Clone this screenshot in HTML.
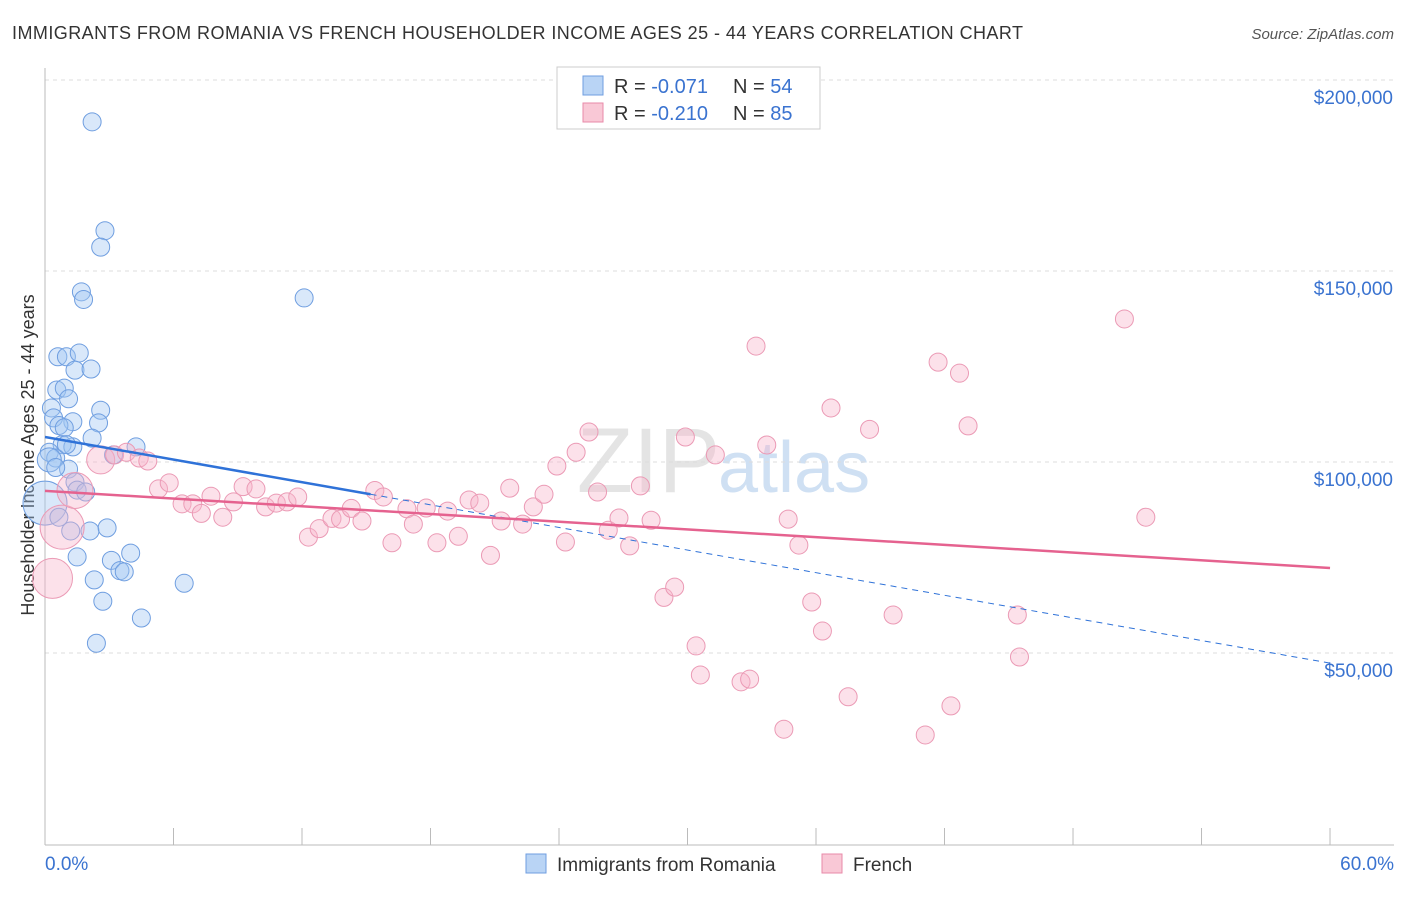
<!DOCTYPE html>
<html><head><meta charset="utf-8"><style>
body{margin:0;background:#fff;font-family:"Liberation Sans",sans-serif}
svg text{font-family:"Liberation Sans",sans-serif}
</style></head><body>
<svg id="c" width="1406" height="892">
<text x="12" y="39" font-size="18" fill="#333" textLength="1011">IMMIGRANTS FROM ROMANIA VS FRENCH HOUSEHOLDER INCOME AGES 25 - 44 YEARS CORRELATION CHART</text>
<text x="1394" y="39" font-size="15" fill="#555" font-style="italic" text-anchor="end">Source: ZipAtlas.com</text>
<text x="720" y="492" font-size="92" fill="#e4e4e4" text-anchor="end" font-family="Liberation Serif">ZIP</text>
<text x="718" y="492" font-size="72" fill="#cfe0f3">atlas</text>
<text transform="translate(34,455) rotate(-90)" font-size="18" fill="#333" text-anchor="middle">Householder Income Ages 25 - 44 years</text>
<g id="grid"></g><g id="pts"></g><g id="lines"></g>
<g>
<rect x="557" y="67" width="263" height="62" fill="#fff" stroke="#ccc"/>
<rect x="583" y="76" width="20" height="19" fill="#b9d4f5" stroke="#6f9ee0"/>
<rect x="583" y="103" width="20" height="19" fill="#f9c8d6" stroke="#e88aa8"/>
<text x="614" y="93" font-size="20" fill="#333">R = <tspan fill="#3a73d0">-0.071</tspan></text>
<text x="733" y="93" font-size="20" fill="#333">N = <tspan fill="#3a73d0">54</tspan></text>
<text x="614" y="120" font-size="20" fill="#333">R = <tspan fill="#3a73d0">-0.210</tspan></text>
<text x="733" y="120" font-size="20" fill="#333">N = <tspan fill="#3a73d0">85</tspan></text>
</g>
<g>
<rect x="526" y="854" width="20" height="19" fill="#b9d4f5" stroke="#6f9ee0"/>
<text x="557" y="871" font-size="19" fill="#333">Immigrants from Romania</text>
<rect x="822" y="854" width="20" height="19" fill="#f9c8d6" stroke="#e88aa8"/>
<text x="853" y="871" font-size="19" fill="#333">French</text>
</g>
<text x="45" y="870" font-size="19" fill="#3a73d0">0.0%</text>
<text x="1394" y="870" font-size="19" fill="#3a73d0" text-anchor="end">60.0%</text>
</svg>
<script>
const yTicks=[200000,150000,100000,50000];
const yTickLabels=["$200,000","$150,000","$100,000","$50,000"];
const blueX=[2.2,2.8,2.6,1.7,1.8,12.1,0.6,1.0,1.6,1.4,2.15,0.55,0.9,1.1,0.3,2.6,0.4,1.3,2.5,0.65,0.9,2.2,0.8,1.3,4.25,0.2,0.5,3.2,1.1,1.4,1.5,1.9,0,0.65,1.2,2.1,2.9,1.5,4,3.1,2.3,3.5,3.7,6.5,2.7,4.5,2.4,0.2,0.5,1.0];
const blueY=[193.5,165,160.7,149,147,147.4,132,132,133,128.5,128.8,123.3,123.8,121,118.6,118,116,115,114.7,114,113.4,110.7,109,108.4,108.4,107,105.5,106.3,102.6,99.2,97.1,96.6,93.7,90,86.4,86.4,87.2,79.6,80.6,78.7,73.6,76,75.7,72.7,68,63.6,57,105,103,109];
const blueR=[9,9,9,9,9,9,9,9,9,9,9,9,9,9,9,9,9,9,9,9,9,9,9,9,9,9,9,9,9,9,9,9,22,9,9,9,9,9,9,9,9,9,9,9,9,9,9,12,9,9];
const pinkX=[0.35,0.8,1.4,2.6,3.25,3.8,4.4,4.8,5.3,5.8,6.4,6.9,7.3,7.75,8.3,8.8,9.25,9.85,10.3,10.8,11.3,11.8,12.3,12.8,13.4,13.8,14.3,14.8,15.4,15.8,16.2,16.9,17.2,17.8,18.3,18.8,19.3,19.8,20.3,20.8,21.3,21.7,22.3,22.8,23.3,23.9,24.3,24.8,25.4,25.8,26.3,26.8,27.3,27.8,28.3,28.9,29.4,29.9,30.4,30.6,31.3,32.5,32.9,33.2,33.7,34.5,34.7,35.2,35.8,36.3,36.7,37.5,38.5,39.6,41.1,41.7,42.3,42.7,43.1,45.4,45.5,50.4,51.4];
const pinkY=[74,87.4,97,105,106.3,107,105.5,104.7,97.4,99,93.5,93.5,91,95.5,90,94,98,97.4,92.7,93.7,94,95.3,84.8,87,89.7,89.5,92.3,89,97,95.3,83.3,92.2,88.2,92.4,83.3,91.6,85,94.5,93.7,80,89,97.6,88.2,92.7,96,103.4,83.5,107,112.3,96.6,86.6,89.8,82.5,98.2,89.2,69,71.7,111,56.3,48.7,106.3,46.9,47.6,134.8,108.9,34.5,89.5,82.7,67.8,60.2,118.6,43,113,64.4,33,130.6,40.6,127.7,113.9,64.4,53.4,141.9,90];
const pinkR=[20,22,18,14];
const blueTrend=[111,51.8]; const pinkTrend=[96.9,76.7];
const NS="http://www.w3.org/2000/svg";
const X=p=>45+p*21.417, Y=v=>97+(200-v)*3.82;
function mk(t,a,parent){const e=document.createElementNS(NS,t);for(const k in a)e.setAttribute(k,a[k]);document.getElementById(parent).appendChild(e);return e;}
yTicks.forEach((t,i)=>{const y=Y(t/1000);
const g=mk('line',{x1:45,x2:1394,y1:y-17,y2:y-17,stroke:'#ddd','stroke-dasharray':'4,4'},'grid');


const tx=mk('text',{x:1393,y:y+7,'font-size':19,fill:'#3a73d0','text-anchor':'end'},'grid');tx.textContent=yTickLabels[i];

});
mk('line',{x1:45,x2:45,y1:68,y2:845,stroke:'#bbb'},'grid');
mk('line',{x1:45,x2:1394,y1:845,y2:845,stroke:'#bbb'},'grid');
for(let i=0;i<=10;i++){const t=mk('line',{x1:X(i*6),x2:X(i*6),y1:828,y2:845,stroke:'#bbb'},'grid');

}
blueX.forEach((p,i)=>{const c=mk('circle',{cx:X(p),cy:Y(blueY[i]),r:blueR[i]||9,fill:'rgba(160,197,242,0.4)',stroke:'#6f9ee0','stroke-width':1},'pts');

});
pinkX.forEach((p,i)=>{const c=mk('circle',{cx:X(p),cy:Y(pinkY[i]),r:pinkR[i]||9,fill:'rgba(247,180,202,0.4)',stroke:'#eb9ab5','stroke-width':1},'pts');

});
const bl=v=>blueTrend[0]+(blueTrend[1]-blueTrend[0])*v/60;
let l=mk('line',{x1:X(0),y1:Y(bl(0)),x2:X(15.2),y2:Y(bl(15.2)),stroke:'#2f72d8','stroke-width':2.5},'lines');


l=mk('line',{x1:X(15.2),y1:Y(bl(15.2)),x2:X(60),y2:Y(bl(60)),stroke:'#2f72d8','stroke-width':1,'stroke-dasharray':'6,5'},'lines');


l=mk('line',{x1:X(0),y1:Y(pinkTrend[0]),x2:X(60),y2:Y(pinkTrend[1]),stroke:'#e5628f','stroke-width':2.5},'lines');


</script>
</body></html>
